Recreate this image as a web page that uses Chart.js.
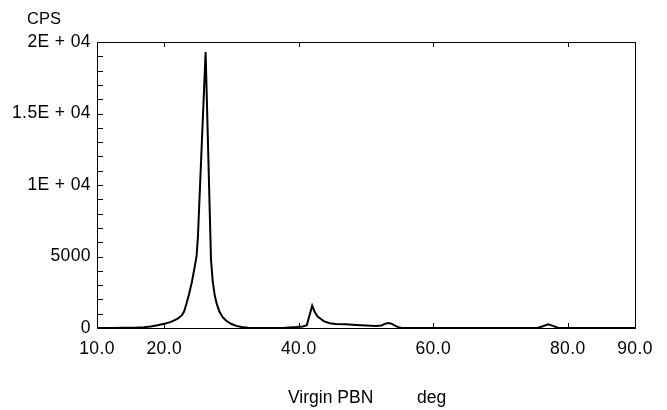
<!DOCTYPE html>
<html>
<head>
<meta charset="utf-8">
<script src="https://cdn.jsdelivr.net/npm/chart.js@4/dist/chart.umd.min.js"></script>
<style>
  html, body { margin: 0; padding: 0; background: #fff; }
</style>
</head>
<body>
<canvas id="xrdChart" width="667" height="410"></canvas>
<script>
// 2theta (deg) / intensity
const twoTheta = [10, 12, 14, 16, 17, 18, 19, 20, 21, 22, 22.6, 22.95, 23.3, 23.7, 24.1, 24.5, 24.8, 25.0,
  26.15,
  26.95, 27.2, 27.5, 27.8, 28.2, 28.7, 29.3, 30.0, 30.7, 31.5, 32.5, 33.5,
  36, 38, 39.7, 40.6, 41.2, 42.0, 42.4, 42.8, 43.2, 43.7, 44.6, 45.5, 47, 48.5, 50, 51.5,
  52.3, 52.8, 53.3, 53.8, 54.3, 54.8, 55.3,
  60, 75.5, 76.3, 77.1, 77.8, 78.6, 90];
const cps = [0, 0, 10, 30, 60, 110, 190, 290, 430, 650, 880, 1150, 1700, 2400, 3200, 4200, 5000, 6300,
  19300,
  4800, 3300, 2300, 1700, 1150, 750, 480, 280, 150, 70, 20, 0,
  0, 20, 70, 110, 200, 1560, 1100, 800, 660, 480, 330, 280, 260, 210, 170, 140,
  180, 290, 350, 300, 170, 60, 0,
  0, 0, 120, 260, 150, 0, 0];

const xTickValues = [10, 20, 40, 60, 80, 90];
const yMajorValues = [0, 5000, 10000, 15000, 20000];
const yMajorLabels = ['0', '5000', '1E + 04', '1.5E + 04', '2E + 04'];

const yTitle = 'CPS';
const xTitle = 'Virgin PBN';
const xUnit = 'deg';

// frame, inward ticks and the two titles
const framePlugin = {
    id: 'frame',
    beforeDraw(chart) {
        chart.ctx.letterSpacing = '0.4px';
    },
    beforeDatasetsDraw(chart) {
        const ctx = chart.ctx;
        const a = chart.chartArea;
        const x = chart.scales.x, y = chart.scales.y;
        ctx.save();
        ctx.strokeStyle = '#000';
        ctx.lineWidth = 1;
        ctx.strokeRect(Math.round(a.left) + 0.5, Math.round(a.top) + 0.5,
            Math.round(a.right - a.left), Math.round(a.bottom - a.top));
        ctx.beginPath();
        for (let v = y.min; v <= y.max; v += 1000) {
            const py = Math.round(y.getPixelForValue(v)) + 0.5;
            ctx.moveTo(a.left, py);
            ctx.lineTo(a.left + 6, py);
        }
        x.ticks.forEach(t => {
            if (t.value <= x.min || t.value >= x.max) return;
            const px = Math.round(x.getPixelForValue(t.value)) + 0.5;
            ctx.moveTo(px, a.bottom);
            ctx.lineTo(px, a.bottom - 5);
            ctx.moveTo(px, a.top);
            ctx.lineTo(px, a.top + 5);
        });
        ctx.stroke();
        ctx.restore();
    },
    afterDraw(chart) {
        const ctx = chart.ctx;
        const a = chart.chartArea;
        ctx.save();
        ctx.letterSpacing = '0px';
        ctx.fillStyle = '#000';
        ctx.textAlign = 'left';
        ctx.textBaseline = 'alphabetic';
        ctx.font = '16.5px "Liberation Sans", Arial, sans-serif';
        ctx.fillText(yTitle, 27, 23.5);
        ctx.font = '17.5px "Liberation Sans", Arial, sans-serif';
        const mid = (a.left + a.right) / 2;
        ctx.fillText(xTitle, mid - 78, 402.5);
        ctx.fillText(xUnit, mid + 51, 402.5);
        ctx.restore();
        ctx.letterSpacing = '0.4px';
    }
};

const tickFont = { family: '"Liberation Sans", Arial, sans-serif', size: 17.5 };

new Chart(document.getElementById('xrdChart').getContext('2d'), {
    type: 'line',
    data: {
        datasets: [{
            data: twoTheta.map((t, i) => ({ x: t, y: cps[i] })),
            borderColor: '#000',
            borderWidth: 2,
            pointRadius: 0,
            tension: 0,
            fill: false
        }]
    },
    options: {
        responsive: false,
        animation: false,
        layout: { padding: { left: 0, right: 32, top: 42, bottom: 0 } },
        plugins: { legend: { display: false }, tooltip: { enabled: false } },
        scales: {
            x: {
                type: 'linear',
                min: 10,
                max: 90,
                afterBuildTicks: s => { s.ticks = xTickValues.map(v => ({ value: v })); },
                afterFit: s => { s.height = 82; },
                grid: { display: false, drawTicks: false },
                border: { display: false },
                ticks: {
                    autoSkip: false,
                    maxRotation: 0,
                    padding: 11,
                    color: '#000',
                    font: tickFont,
                    callback: v => Number(v).toFixed(1)
                }
            },
            y: {
                min: 0,
                max: 20000,
                afterBuildTicks: s => { s.ticks = yMajorValues.map(v => ({ value: v })); },
                afterFit: s => { s.width = 97; },
                grid: { display: false, drawTicks: false },
                border: { display: false },
                ticks: {
                    autoSkip: false,
                    padding: 6,
                    color: '#000',
                    font: tickFont,
                    callback: v => yMajorLabels[yMajorValues.indexOf(v)]
                }
            }
        }
    },
    plugins: [framePlugin]
});
</script>
</body>
</html>
